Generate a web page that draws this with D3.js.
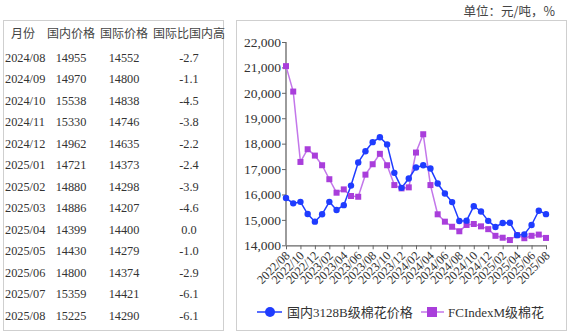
<!DOCTYPE html>
<html><head><meta charset="utf-8">
<script src="https://cdn.jsdelivr.net/npm/d3@7/dist/d3.min.js"></script>
<style>
html,body{margin:0;padding:0;background:#fff;}
svg{display:block;}
text{font-family:"Liberation Serif","Times New Roman","Noto Sans CJK SC",serif;fill:#333;}
</style></head><body>
<svg id="c" width="570" height="336"></svg>
<script>
// ---- data ----
const months = ["2022/08","2022/09","2022/10","2022/11","2022/12","2023/01","2023/02","2023/03","2023/04","2023/05","2023/06","2023/07","2023/08","2023/09","2023/10","2023/11","2023/12","2024/01","2024/02","2024/03","2024/04","2024/05","2024/06","2024/07","2024/08","2024/09","2024/10","2024/11","2024/12","2025/01","2025/02","2025/03","2025/04","2025/05","2025/06","2025/07","2025/08"];
const domestic = [15860,15650,15710,15230,14930,15220,15710,15390,15580,16350,17260,17700,18060,18250,17970,16850,16260,16630,17060,17150,17020,16430,16040,15700,14955,14970,15538,15330,14962,14721,14880,14886,14399,14430,14800,15359,15225];
const intl = [21050,20050,17280,17780,17530,17150,16600,16070,16200,15940,15910,16780,17190,17600,17150,16370,16240,16280,17650,18370,16370,15220,14930,14730,14552,14800,14838,14746,14635,14373,14298,14207,14400,14279,14374,14421,14290];
const tableMonths = ["2024/08","2024/09","2024/10","2024/11","2024/12","2025/01","2025/02","2025/03","2025/04","2025/05","2025/06","2025/07","2025/08"];
const tableDomestic = [14955,14970,15538,15330,14962,14721,14880,14886,14399,14430,14800,15359,15225];
const tableIntl = [14552,14800,14838,14746,14635,14373,14298,14207,14400,14279,14374,14421,14290];
const tableDiff = ["-2.7","-1.1","-4.5","-3.8","-2.2","-2.4","-3.9","-4.6","0.0","-1.0","-2.9","-6.1","-6.1"];
const tableHeaders = ["月份","国内价格","国际价格","国际比国内高"];
const yTicks = [14000,15000,16000,17000,18000,19000,20000,21000,22000];
const seriesNames = ["国内3128B级棉花价格","FCIndexM级棉花"];
const unitLabel = "单位：元/吨，%";

const svg = d3.select("#c");
const blue = "#1f3cff", purpleLine = "#c377ea", purpleMark = "#a93edb";

// ---- table ----
svg.append("rect").attr("x",3.5).attr("y",20.5).attr("width",220).attr("height",310)
  .attr("fill","none").attr("stroke","#cfcfcf").attr("stroke-width",1);
const colX = [23,71,124,189];
svg.selectAll("text.th").data(tableHeaders).join("text").attr("class","th")
  .attr("x",(d,i)=>colX[i]).attr("y",38).attr("text-anchor","middle")
  .attr("font-size",12).style("font-family","'Noto Sans CJK SC',sans-serif").style("fill","#444").text(d=>d);
const rowY = d3.scaleLinear().domain([0,12]).range([61.5,319.5]);
tableMonths.forEach((m,i)=>{
  const cells=[m,tableDomestic[i],tableIntl[i],tableDiff[i]];
  svg.selectAll(null).data(cells).join("text")
    .attr("x",(d,j)=>j===0?5:colX[j]).attr("y",rowY(i))
    .attr("text-anchor",(d,j)=>j===0?"start":"middle")
    .attr("font-size",12.3).text(d=>d);
});

// ---- chart box ----
svg.append("rect").attr("x",236.5).attr("y",20.5).attr("width",330).attr("height",310)
  .attr("fill","none").attr("stroke","#cfcfcf").attr("stroke-width",1);
svg.append("text").attr("x",555).attr("y",16).attr("text-anchor","end")
  .attr("font-size",12.5).style("font-family","'Noto Sans CJK SC',sans-serif").style("fill","#444").text(unitLabel);

const x = d3.scalePoint().domain(months).range([286,546]);
const y = d3.scaleLinear().domain([14000,22000]).range([245.3,42]);

const yAxis = d3.axisLeft(y).tickValues(yTicks).tickSize(4).tickFormat(d3.format(","));
const gy = svg.append("g").attr("transform","translate(286,0)").call(yAxis);
gy.select(".domain").attr("stroke","#666").attr("stroke-width",1.3).attr("d","M0,42V245.3");
gy.selectAll(".tick line").attr("stroke","#666");
gy.selectAll(".tick text").attr("font-size",13.5).style("font-family","'Liberation Serif',serif").style("fill","#333").attr("x",-5);

const xTickVals = months.filter((d,i)=>i%2===0);
const xAxis = d3.axisBottom(x).tickValues(xTickVals).tickSize(4).tickSizeOuter(0);
const gx = svg.append("g").attr("transform","translate(0,245.3)").call(xAxis);
gx.select(".domain").attr("stroke","#666").attr("stroke-width",1.3);
gx.selectAll(".tick line").attr("stroke","#666");
gx.selectAll(".tick text").attr("font-size",12.3).style("font-family","'Liberation Serif',serif").style("fill","#333")
  .attr("text-anchor","end").attr("dy",0).attr("y",0)
  .attr("transform","translate(4,11) rotate(-45)");

// ---- lines ----
const line = d3.line().x((d,i)=>x(months[i])).y(d=>y(d));
svg.append("path").datum(intl).attr("d",line).attr("fill","none").attr("stroke",purpleLine).attr("stroke-width",1.5);
svg.append("path").datum(domestic).attr("d",line).attr("fill","none").attr("stroke",blue).attr("stroke-width",1.5);
svg.selectAll("rect.pm").data(intl).join("rect").attr("class","pm")
  .attr("x",(d,i)=>x(months[i])-3).attr("y",d=>y(d)-3).attr("width",6).attr("height",6).attr("fill",purpleMark);
svg.selectAll("circle.bm").data(domestic).join("circle").attr("class","bm")
  .attr("cx",(d,i)=>x(months[i])).attr("cy",d=>y(d)).attr("r",3.2).attr("fill",blue);

// ---- legend ----
const lg = svg.append("g");
lg.append("line").attr("x1",257).attr("x2",282).attr("y1",312).attr("y2",312).attr("stroke",blue).attr("stroke-width",1.5);
lg.append("circle").attr("cx",270).attr("cy",312).attr("r",5).attr("fill",blue);
lg.append("text").attr("x",287).attr("y",317).attr("font-size",13).style("fill","#333").text(seriesNames[0]);
lg.append("line").attr("x1",421).attr("x2",444).attr("y1",312).attr("y2",312).attr("stroke",purpleLine).attr("stroke-width",1.5);
lg.append("rect").attr("x",427).attr("y",307).attr("width",10).attr("height",10).attr("fill",purpleMark);
lg.append("text").attr("x",448).attr("y",317).attr("font-size",13).style("fill","#333").text(seriesNames[1]);
</script>
</body></html>
